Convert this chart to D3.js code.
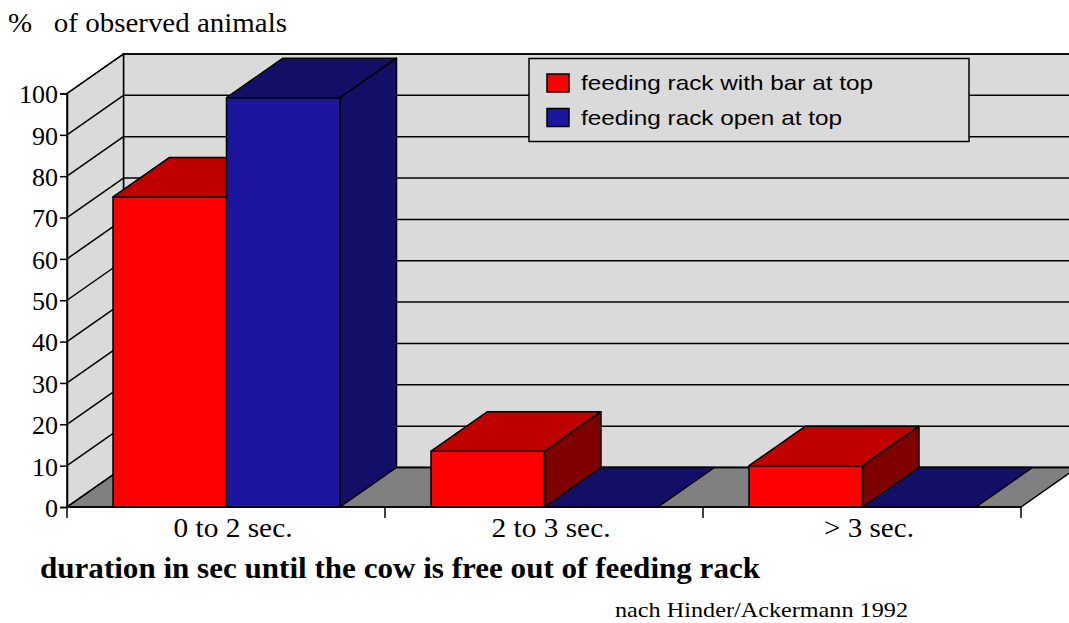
<!DOCTYPE html>
<html>
<head>
<meta charset="utf-8">
<script src="https://cdn.jsdelivr.net/npm/d3@7"></script>
<style>
  html, body { margin: 0; padding: 0; background: #fff; }
  svg { display: block; }
</style>
</head>
<body>
<svg id="chart" width="1069" height="623"></svg>
<script>
// Share of animals by time needed to get free from the feeding rack
const categories = ["0 to 2 sec.", "2 to 3 sec.", "> 3 sec."];
const seriesNames = ["feeding rack with bar at top", "feeding rack open at top"];
const barWithTop = [75, 13.5, 10];
const openTop = [99, 0, 0];
const yTicks = [0, 10, 20, 30, 40, 50, 60, 70, 80, 90, 100];

const W = 1069, H = 623;
const svg = d3.select("#chart");
const serif = "'Liberation Serif', 'Times New Roman', serif";
const sans = "'Liberation Sans', Arial, sans-serif";

// plot frame (front plane) and the depth offset of the 3D box
const x0 = 67, x1 = 1021, yBase = 507, yTop = 93.5;
const DX = 56.5, DY = -39.5;

const y = d3.scaleLinear().domain([0, 100]).range([yBase, yTop]);
const x = d3.scaleBand().domain(categories).range([x0, x1]).padding(0);
const xs = d3.scaleBand().domain(seriesNames).range([46, 46 + 227]).padding(0);

const colors = {
  [seriesNames[0]]: { front: "#ff0000", top: "#bf0000", side: "#7f0000" },
  [seriesNames[1]]: { front: "#1c169e", top: "#140f66", side: "#140f66" }
};
const wallFill = "#dadada", floorFill = "#808080";

const poly = pts => "M" + pts.map(p => p.join(",")).join("L") + "Z";

// back wall
svg.append("path")
  .attr("d", poly([[x0 + DX, yTop + DY], [x1 + DX, yTop + DY], [x1 + DX, yBase + DY], [x0 + DX, yBase + DY]]))
  .attr("fill", wallFill).attr("stroke", "#000").attr("stroke-width", 1.5);
// left wall
svg.append("path")
  .attr("d", poly([[x0, yTop], [x0 + DX, yTop + DY], [x0 + DX, yBase + DY], [x0, yBase]]))
  .attr("fill", wallFill).attr("stroke", "#000").attr("stroke-width", 1.5);
// floor
svg.append("path")
  .attr("d", poly([[x0, yBase], [x0 + DX, yBase + DY], [x1 + DX, yBase + DY], [x1, yBase]]))
  .attr("fill", floorFill).attr("stroke", "#000").attr("stroke-width", 1.5);

// gridlines: across the back wall and diagonally along the left wall
const grid = svg.append("g").attr("stroke", "#000").attr("stroke-width", 1.5).attr("fill", "none");
yTicks.forEach(t => {
  grid.append("line")
    .attr("x1", x0 + DX).attr("x2", x1 + DX)
    .attr("y1", y(t) + DY).attr("y2", y(t) + DY);
  grid.append("line")
    .attr("x1", x0).attr("x2", x0 + DX)
    .attr("y1", y(t)).attr("y2", y(t) + DY);
});

// 3D bars
const rows = [];
categories.forEach((c, i) => {
  rows.push({ cat: c, series: seriesNames[0], value: barWithTop[i] });
  rows.push({ cat: c, series: seriesNames[1], value: openTop[i] });
});
const bars = svg.append("g").attr("stroke", "#000").attr("stroke-width", 1.5).attr("stroke-linejoin", "round");
rows.forEach(d => {
  const l = x(d.cat) + xs(d.series), r = l + xs.bandwidth();
  const t = y(d.value), b = y(0);
  const col = colors[d.series];
  const g = bars.append("g");
  if (d.value > 0) {
    g.append("path").attr("fill", col.side)
      .attr("d", poly([[r, t], [r + DX, t + DY], [r + DX, b + DY], [r, b]]));
    g.append("path").attr("fill", col.front)
      .attr("d", poly([[l, t], [r, t], [r, b], [l, b]]));
  }
  g.append("path").attr("fill", col.top)
    .attr("d", poly([[l, t], [l + DX, t + DY], [r + DX, t + DY], [r, t]]));
});

// value axis on the front left edge
const yAxis = svg.append("g")
  .attr("transform", `translate(${x0},0)`)
  .call(d3.axisLeft(y).tickValues(yTicks).tickSize(7).tickPadding(2).tickFormat(d3.format("d")));
yAxis.select(".domain").attr("stroke", "#000").attr("stroke-width", 1.5);
yAxis.selectAll(".tick line").attr("stroke", "#000").attr("stroke-width", 1.5);
yAxis.selectAll(".tick text")
  .attr("font-family", serif)
  .attr("font-size", 26).attr("fill", "#000").attr("dy", "0.36em");

// category axis along the front floor edge
const xBounds = d3.scaleLinear().domain([0, categories.length]).range([x0, x1]);
const xAxis = svg.append("g").attr("stroke", "#000").attr("stroke-width", 1.5);
xAxis.append("line").attr("x1", x0).attr("x2", x1).attr("y1", yBase).attr("y2", yBase);
d3.range(categories.length + 1).forEach(i => {
  xAxis.append("line").attr("x1", xBounds(i)).attr("x2", xBounds(i))
    .attr("y1", yBase).attr("y2", yBase + 11);
});
const catWidths = [119, 119, 90];
svg.append("g").selectAll("text").data(categories).join("text")
  .attr("x", d => x(d) + x.bandwidth() / 2 + 7)
  .attr("y", 537)
  .attr("text-anchor", "middle")
  .attr("font-family", serif)
  .attr("font-size", 27)
  .attr("textLength", (d, i) => catWidths[i])
  .attr("lengthAdjust", "spacingAndGlyphs")
  .text(d => d);

// legend
const legendWidths = [292, 261];
const lg = svg.append("g");
lg.append("rect").attr("x", 529).attr("y", 58.5).attr("width", 440).attr("height", 83)
  .attr("fill", wallFill).attr("stroke", "#000").attr("stroke-width", 1.5);
seriesNames.forEach((s, i) => {
  lg.append("rect").attr("x", 547).attr("y", 74 + i * 34.5).attr("width", 22).attr("height", 18)
    .attr("fill", colors[s].front).attr("stroke", "#000").attr("stroke-width", 1.5);
  lg.append("text").attr("x", 581).attr("y", 90 + i * 34.5)
    .attr("font-family", sans)
    .attr("font-size", 21).attr("fill", "#000")
    .attr("textLength", legendWidths[i])
    .attr("lengthAdjust", "spacingAndGlyphs")
    .text(s);
});

// titles and source
svg.append("text").attr("x", 8).attr("y", 32)
  .attr("font-family", serif).attr("font-size", 27)
  .attr("xml:space", "preserve")
  .attr("textLength", 279).attr("lengthAdjust", "spacingAndGlyphs")
  .text("%   of observed animals");
svg.append("text").attr("x", 40).attr("y", 578)
  .attr("font-family", serif).attr("font-size", 30).attr("font-weight", "bold")
  .attr("textLength", 720).attr("lengthAdjust", "spacingAndGlyphs")
  .text("duration in sec until the cow is free out of feeding rack");
svg.append("text").attr("x", 615).attr("y", 617)
  .attr("font-family", serif).attr("font-size", 22)
  .attr("textLength", 293).attr("lengthAdjust", "spacingAndGlyphs")
  .text("nach Hinder/Ackermann 1992");
</script>
</body>
</html>
